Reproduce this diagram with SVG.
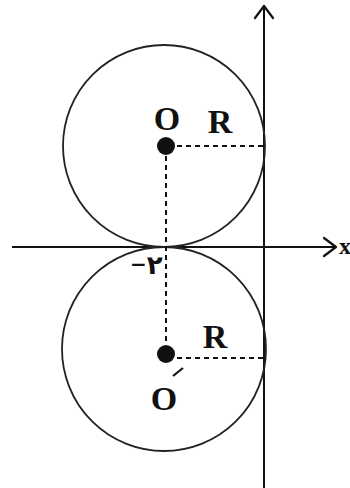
<svg xmlns="http://www.w3.org/2000/svg" width="350" height="488" viewBox="0 0 350 488">
<style>
.ax{stroke:#111;stroke-width:2;fill:none}
.c{stroke:#222;stroke-width:1.8;fill:none}
.d{stroke:#111;stroke-width:2;stroke-dasharray:5,4;fill:none}
.t{font-family:"Liberation Serif",serif;font-weight:bold;font-size:34px;fill:#111}
.ar{stroke:#111;stroke-width:2.2;fill:none;stroke-linecap:round;stroke-linejoin:round}
</style>
<g id="axes">
<line class="ax" x1="12" y1="247" x2="336" y2="247"/>
<polyline class="ar" points="324,238 336,247 324,256"/>
<line class="ax" x1="264" y1="5" x2="264" y2="488"/>
<polyline class="ar" points="255,18 264,6 273,18"/>
<text x="339" y="254" style="font-family:'Liberation Serif',serif;font-weight:bold;font-size:24px;fill:#111">x</text>
</g>
<g id="circle-upper">
<circle class="c" cx="164" cy="146" r="101"/>
<circle cx="166" cy="146" r="9" fill="#111"/>
<text class="t" x="167" y="130" text-anchor="middle">O</text>
<text class="t" x="220" y="133" text-anchor="middle">R</text>
<line class="d" x1="177" y1="146" x2="264" y2="146"/>
</g>
<g id="circle-lower">
<circle class="c" cx="164" cy="349" r="102"/>
<circle cx="166" cy="354" r="9" fill="#111"/>
<text class="t" x="164" y="410" text-anchor="middle">O</text>
<line x1="173" y1="376" x2="183" y2="368" stroke="#111" stroke-width="2.2"/>
<text class="t" x="215" y="348" text-anchor="middle">R</text>
<line class="d" x1="177" y1="358" x2="264" y2="358"/>
</g>
<g id="connectors">
<line class="d" x1="166" y1="156" x2="166" y2="344"/>
</g>
<g id="label-minus2">
<text x="130" y="274" direction="ltr" style="font-family:'DejaVu Sans',sans-serif;font-weight:bold;fill:#111;unicode-bidi:bidi-override"><tspan font-size="20" dy="-3">−</tspan><tspan font-size="26" dy="3">۲</tspan></text>
</g>
</svg>
